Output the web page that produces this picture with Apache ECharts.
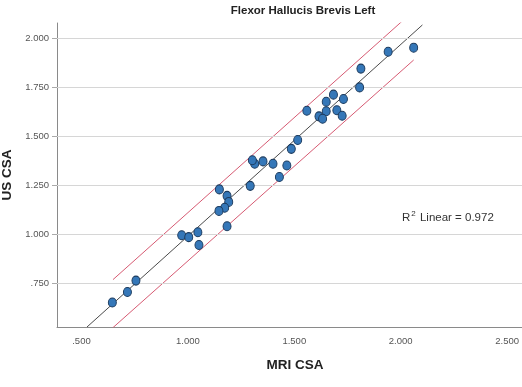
<!DOCTYPE html>
<html><head><meta charset="utf-8">
<script src="https://cdn.jsdelivr.net/npm/echarts@6/dist/echarts.min.js"></script>
<style>html,body{margin:0;padding:0;background:#fff}#c{width:522px;height:387px}</style>
</head><body><div id="c"></div>
<script>
var mriCSA = [0.645,0.716,0.756,0.971,1.004,1.047,1.052,1.148,1.184,1.192,1.173,1.146,1.184,
  2.061,1.941,1.813,1.807,1.731,1.684,1.650,1.650,1.700,1.725,1.616,1.633,1.559,1.516,1.486,1.465,1.430,1.400,1.353,1.314,1.303,1.293];
var usCSA = [0.651,0.705,0.763,0.995,0.985,1.010,0.945,1.229,1.196,1.165,1.135,1.119,1.041,
  1.953,1.932,1.846,1.750,1.691,1.713,1.677,1.628,1.633,1.605,1.602,1.590,1.631,1.481,1.436,1.351,1.292,1.360,1.372,1.360,1.378,1.247];
var fitX = [0.526, 2.102], fitY = [0.526, 2.069];
var upperX = [0.648, 2.06], upperY = [0.768, 2.14];
var lowerX = [0.645, 2.061], lowerY = [0.520, 1.89];
var xTicks = [0.5, 1.0, 1.5, 2.0, 2.5];
var yTicks = [0.75, 1.0, 1.25, 1.5, 1.75, 2.0];
var r2 = 0.972;

function fmt(v){ var s = v.toFixed(3); return s.charAt(0)==='0' ? s.slice(1) : s; }
function pairs(a,b){ return a.map(function(v,i){ return [v,b[i]]; }); }

var chart = echarts.init(document.getElementById('c'));
var F = 'Liberation Sans, Arial, sans-serif';
chart.setOption({
  animation:false,
  grid:{left:57, right:0, top:23, bottom:60, containLabel:false, outerBoundsMode:'none'},
  xAxis:{type:'value', min:0.385, max:2.57,
    name:'MRI CSA', nameLocation:'middle', nameGap:31,
    nameTextStyle:{fontFamily:F, fontSize:13.5, fontWeight:'bold', color:'#222', padding:[0,0,0,11]},
    axisLine:{show:true, onZero:false, lineStyle:{color:'#8a8a8a', width:1}},
    axisTick:{show:false, customValues:xTicks},
    axisLabel:{customValues:xTicks, formatter:fmt, fontFamily:F, fontSize:9.5, color:'#555', margin:9, hideOverlap:false},
    splitLine:{show:false}},
  yAxis:{type:'value', min:0.526, max:2.079,
    name:'US CSA', nameLocation:'middle', nameGap:41,
    nameTextStyle:{fontFamily:F, fontSize:13.5, fontWeight:'bold', color:'#222'},
    axisLine:{show:true, onZero:false, lineStyle:{color:'#8a8a8a', width:1}},
    axisTick:{show:true, customValues:yTicks, length:5, lineStyle:{color:'#aaa'}},
    axisLabel:{customValues:yTicks, formatter:fmt, fontFamily:F, fontSize:9.5, color:'#555', margin:8},
    splitLine:{show:false}},
  graphic:[
    {type:'text', x:303, y:5, style:{text:'Flexor Hallucis Brevis Left', align:'center',
      fontFamily:F, fontSize:11.5, fontWeight:'bold', fill:'#222'}},
    {type:'text', left:402, top:210, style:{
    text:'{a|R}{s|2}{a| Linear = '+r2.toFixed(3)+'}',
    rich:{a:{fontFamily:F, fontSize:11.5, fill:'#333', verticalAlign:'bottom'},
          s:{fontFamily:F, fontSize:8, fill:'#333', verticalAlign:'top', padding:[0,1,6,1]}}}}],
  series:[
    {type:'line', data:[], silent:true,
     markLine:{silent:true, symbol:'none', label:{show:false},
       lineStyle:{color:'#d6d6d6', width:1.2, type:'solid'},
       data:yTicks.map(function(v){ return {yAxis:v}; })}},
    {type:'line', data:pairs(fitX,fitY), showSymbol:false, silent:true, z:3,
     lineStyle:{color:'#4a4a4a', width:1}},
    {type:'line', data:pairs(upperX,upperY), showSymbol:false, silent:true, z:3,
     lineStyle:{color:'#d65a72', width:1}},
    {type:'line', data:pairs(lowerX,lowerY), showSymbol:false, silent:true, z:3,
     lineStyle:{color:'#d65a72', width:1}},
    {type:'scatter', data:pairs(mriCSA,usCSA), symbolSize:[8,9], z:5,
     itemStyle:{color:'#3577b8', borderColor:'#1c3b5e', borderWidth:1, opacity:1}}
  ]
});
</script></body></html>
